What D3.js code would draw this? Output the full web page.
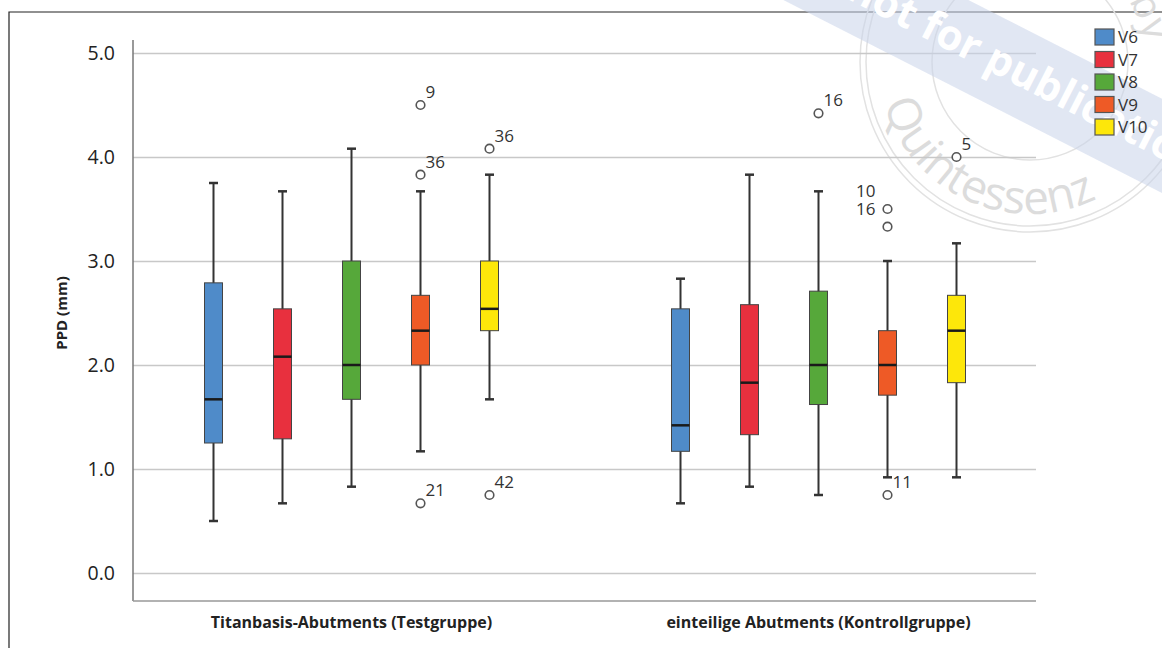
<!DOCTYPE html>
<html lang="de">
<head>
<meta charset="utf-8">
<title>PPD Boxplot</title>
<script src="https://d3js.org/d3.v7.min.js"></script>
<style>
  body { margin: 0; background: #fff; }
  text { font-family: 'Open Sans', sans-serif; }
</style>
</head>
<body>
<svg id="chart" width="1162" height="648"></svg>
<script>
// groups, series, tick labels
const groups = ["Titanbasis-Abutments (Testgruppe)", "einteilige Abutments (Kontrollgruppe)"];
const series = ["V6", "V7", "V8", "V9", "V10"];
const colors = ["#4f8bc9", "#e8303e", "#56a83a", "#ee5a26", "#fde70a"];
const yTicks = [0, 1, 2, 3, 4, 5];

// [min, q1, median, q3, max] per series
const statsTest = [
  [0.50, 1.25, 1.67, 2.79, 3.75],
  [0.67, 1.29, 2.08, 2.54, 3.67],
  [0.83, 1.67, 2.00, 3.00, 4.08],
  [1.17, 2.00, 2.33, 2.67, 3.67],
  [1.67, 2.33, 2.54, 3.00, 3.83]
];
const statsControl = [
  [0.67, 1.17, 1.42, 2.54, 2.83],
  [0.83, 1.33, 1.83, 2.58, 3.83],
  [0.75, 1.62, 2.00, 2.71, 3.67],
  [0.92, 1.71, 2.00, 2.33, 3.00],
  [0.92, 1.83, 2.33, 2.67, 3.17]
];

// outliers: group index, series, value, case label
const outliers = [
  {g: 0, s: "V9", v: 4.50, id: "9"},
  {g: 0, s: "V9", v: 3.83, id: "36"},
  {g: 0, s: "V9", v: 0.67, id: "21"},
  {g: 0, s: "V10", v: 4.08, id: "36"},
  {g: 0, s: "V10", v: 0.75, id: "42"},
  {g: 1, s: "V8", v: 4.42, id: "16"},
  {g: 1, s: "V9", v: 3.50, id: "10"},
  {g: 1, s: "V9", v: 3.33, id: "16"},
  {g: 1, s: "V9", v: 0.75, id: "11"},
  {g: 1, s: "V10", v: 4.00, id: "5"}
];
// labels that sit on the left side of their circle
const leftLabels = ["1-V9-3.5", "1-V9-3.33"];

const svg = d3.select("#chart");

// frame (left + top only, the rest is cropped)
svg.append("path").attr("d", "M9,648 V12 H1162")
  .attr("fill", "none").attr("stroke", "#222").attr("stroke-width", 1.2);

const y = d3.scaleLinear().domain([0, 5]).range([573, 53]);
const x0 = d3.scaleBand().domain(groups).range([118, 1052]);
const x1 = d3.scalePoint().domain(series).range([-138, 138]);
const color = d3.scaleOrdinal().domain(series).range(colors);

const left = 133, right = 1036;

// watermark stamp (drawn under the data)
const wm = svg.append("g").attr("pointer-events", "none");
const sc = [1030, 62];
[170, 164, 98].forEach(r => {
  wm.append("circle").attr("cx", sc[0]).attr("cy", sc[1]).attr("r", r)
    .attr("fill", "none").attr("stroke", "#e2e2e2").attr("stroke-width", 1.5);
});
const arcPt = (r, a) => [sc[0] + r * Math.cos(a * Math.PI / 180), sc[1] + r * Math.sin(a * Math.PI / 180)];
const p1 = arcPt(152, 164), p2 = arcPt(152, 30);
wm.append("path").attr("id", "wmArc")
  .attr("d", `M${p1} A152,152 0 0 0 ${p2}`).attr("fill", "none");
wm.append("text").attr("fill", "#dcdcdc").style("font-size", "46px")
  .append("textPath").attr("href", "#wmArc").text("Quintessenz");
const p3 = arcPt(116, -32), p4 = arcPt(116, 10);
wm.append("path").attr("id", "wmArc2")
  .attr("d", `M${p3} A116,116 0 0 1 ${p4}`).attr("fill", "none");
wm.append("text").attr("fill", "#dcdcdc").style("font-size", "40px")
  .append("textPath").attr("href", "#wmArc2").text("by");

// gridlines + tick labels
const yAxis = svg.append("g")
  .attr("transform", `translate(${left},0)`)
  .call(d3.axisLeft(y).tickValues(yTicks).tickFormat(d3.format(".1f"))
    .tickSize(-(right - left)).tickPadding(18));
yAxis.select(".domain").remove();
yAxis.selectAll(".tick line").attr("stroke", "#c8c8c8").attr("stroke-width", 1.5);
yAxis.selectAll(".tick text").attr("fill", "#222").style("font-size", "19.5px");

// axis lines
svg.append("line").attr("x1", left).attr("x2", left).attr("y1", 40).attr("y2", 601)
  .attr("stroke", "#777").attr("stroke-width", 1.5);
svg.append("line").attr("x1", left).attr("x2", right).attr("y1", 601).attr("y2", 601)
  .attr("stroke", "#999").attr("stroke-width", 1.5);

// y title
svg.append("text")
  .attr("transform", `translate(67,${y(2.5)}) rotate(-90)`)
  .attr("text-anchor", "middle")
  .attr("fill", "#222")
  .style("font-size", "15px").style("font-weight", 700)
  .text("PPD (mm)");

// category labels
svg.selectAll(".cat").data(groups).join("text")
  .attr("class", "cat")
  .attr("x", d => x0(d) + x0.bandwidth() / 2)
  .attr("y", 628)
  .attr("text-anchor", "middle")
  .attr("fill", "#222")
  .style("font-size", "16px").style("font-weight", 700)
  .text(d => d);

// boxes
const boxW = 18, capW = 9;
const boxData = [];
[statsTest, statsControl].forEach((stats, gi) => {
  stats.forEach((st, si) => boxData.push({g: groups[gi], s: series[si], st: st}));
});
const cx = d => x0(d.g) + x0.bandwidth() / 2 + x1(d.s);

const box = svg.selectAll(".box").data(boxData).join("g").attr("class", "box");
box.append("line")
  .attr("x1", cx).attr("x2", cx)
  .attr("y1", d => y(d.st[0])).attr("y2", d => y(d.st[4]))
  .attr("stroke", "#333").attr("stroke-width", 2);
box.selectAll(".cap").data(d => [d, d].map((b, i) => ({x: cx(b), v: b.st[i * 4]}))).join("line")
  .attr("class", "cap")
  .attr("x1", d => d.x - capW / 2).attr("x2", d => d.x + capW / 2)
  .attr("y1", d => y(d.v)).attr("y2", d => y(d.v))
  .attr("stroke", "#333").attr("stroke-width", 2.5);
box.append("rect")
  .attr("x", d => cx(d) - boxW / 2)
  .attr("y", d => y(d.st[3]))
  .attr("width", boxW)
  .attr("height", d => y(d.st[1]) - y(d.st[3]))
  .attr("fill", d => color(d.s))
  .attr("stroke", "#444").attr("stroke-width", 1);
box.append("line")
  .attr("x1", d => cx(d) - boxW / 2).attr("x2", d => cx(d) + boxW / 2)
  .attr("y1", d => y(d.st[2])).attr("y2", d => y(d.st[2]))
  .attr("stroke", "#1a1a1a").attr("stroke-width", 2.5);

// outliers
const ox = d => x0(groups[d.g]) + x0.bandwidth() / 2 + x1(d.s);
svg.selectAll(".out").data(outliers).join("circle")
  .attr("class", "out")
  .attr("cx", ox).attr("cy", d => y(d.v)).attr("r", 4.3)
  .attr("fill", "#fff").attr("stroke", "#555").attr("stroke-width", 1.6);
svg.selectAll(".outlab").data(outliers).join("text")
  .attr("class", "outlab")
  .each(function(d) {
    const isLeft = leftLabels.includes(`${d.g}-${d.s}-${d.v}`);
    d3.select(this)
      .attr("x", isLeft ? ox(d) - 12 : ox(d) + 5)
      .attr("y", y(d.v) - (isLeft ? 12 : 7))
      .attr("text-anchor", isLeft ? "end" : "start");
  })
  .attr("fill", "#333")
  .style("font-size", "17px")
  .text(d => d.id);

// diagonal band of the watermark
const band = svg.append("g").attr("pointer-events", "none")
  .attr("transform", "translate(1025,76) rotate(27)");
band.append("rect").attr("x", -300).attr("y", -42).attr("width", 600).attr("height", 84)
  .attr("fill", "#c9d3ea").attr("opacity", 0.55);
band.append("text").attr("x", 0).attr("y", 12)
  .attr("text-anchor", "middle").attr("fill", "#fff")
  .style("font-size", "42px").style("font-weight", 700)
  .text("not for publication");

// legend (on top)
const legend = svg.append("g").attr("transform", "translate(1095,29)");
const li = legend.selectAll("g").data(series).join("g")
  .attr("transform", (d, i) => `translate(0,${i * 22.5})`);
li.append("rect").attr("width", 19).attr("height", 16)
  .attr("fill", d => color(d)).attr("stroke", "#555").attr("stroke-width", 1.2);
li.append("text").attr("x", 23).attr("y", 14)
  .attr("fill", "#333").style("font-size", "17px")
  .text(d => d);
</script>
</body>
</html>
